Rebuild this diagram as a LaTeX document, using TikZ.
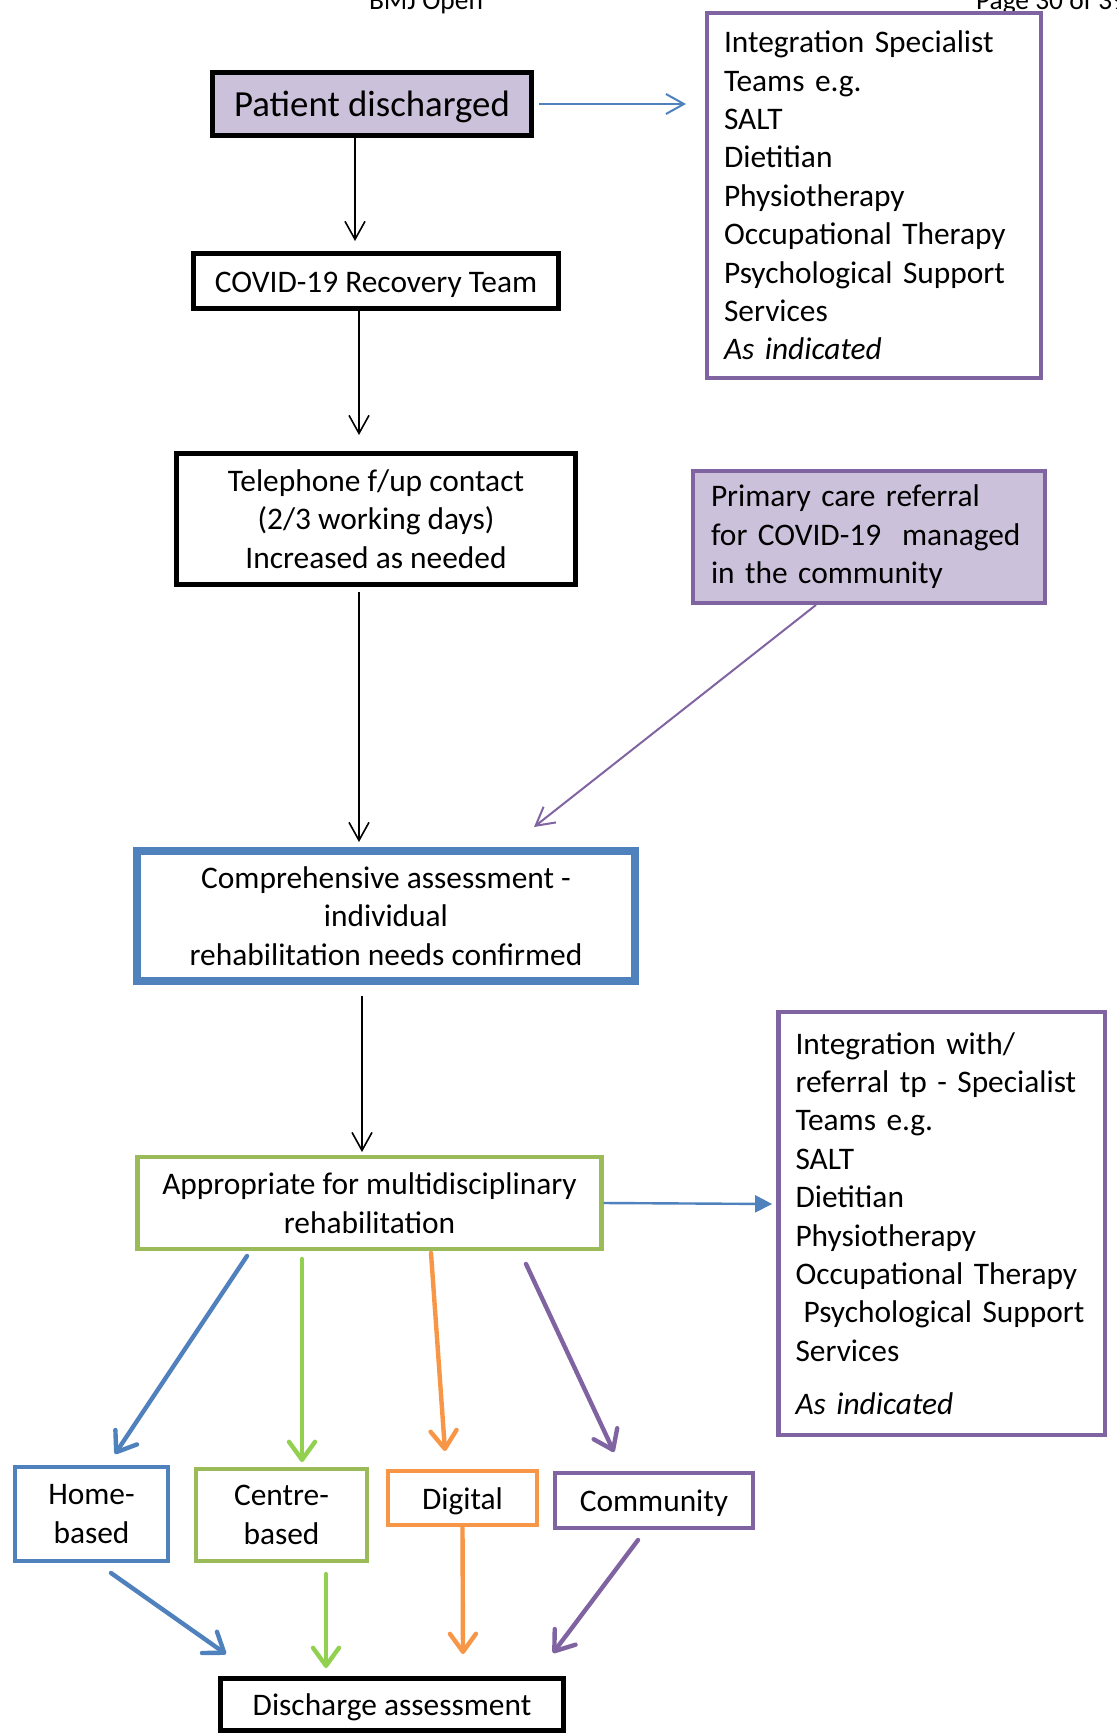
\documentclass[tikz,border=0pt]{standalone}
\usepackage{fontspec}
\setmainfont{Carlito}
\usetikzlibrary{arrows.meta,positioning}
\definecolor{lavender}{HTML}{CCC1DA}
\definecolor{purp}{HTML}{8064A2}
\definecolor{blu}{HTML}{4F81BD}
\definecolor{grn}{HTML}{9BBB59}
\definecolor{lgrn}{HTML}{92D050}
\definecolor{orng}{HTML}{F79646}
\tikzset{>={Straight Barb[length=9pt,width=10pt]}}
\tikzset{
  box/.style={draw, rectangle, inner sep=0pt, align=center, font=\fontsize{15.7}{19.2}\selectfont},
  oneline/.style={text height=13pt, text depth=2pt},
  blackbox/.style={box, line width=2.5pt},
  listbox/.style={box, draw=purp, line width=2.2pt, align=left},
  route/.style={line width=2.2pt, line cap=round, -{Straight Barb[length=9pt,width=13pt,round]}},
}

\begin{document}
\begin{tikzpicture}[x=0.5pt, y=-0.5pt]
      \useasboundingbox (0,0) rectangle (1116,1735);
      \node[anchor=base, font=\fontsize{13.7}{16}\selectfont] (hd) at (426,9) {BMJ Open};
      \node[anchor=base west, font=\fontsize{13.7}{16}\selectfont] (pg) at (969,9) {Page 30 of 39};
      \node[blackbox, fill=lavender, minimum width=159.5pt, minimum height=31.5pt, font=\fontsize{18.4}{22}\selectfont, text height=14pt, text depth=1.8pt] (n0) at (372,104) {Patient discharged};
      \node[blackbox, oneline, minimum width=182.5pt, minimum height=27.5pt] (n1) at (376,281) {COVID-19 Recovery Team};
      \node[blackbox, minimum width=199.5pt, minimum height=65.5pt] (n2) at (376,519) {Telephone f/up contact\\(2/3 working days)\\Increased as needed};
      \node[box, draw=blu, line width=4pt, minimum width=249pt, minimum height=65pt] (n3) at (386,916) {Comprehensive assessment -\\individual\\rehabilitation needs confirmed};
      \node[box, draw=grn, line width=2.2pt, minimum width=232pt, minimum height=45.75pt] (n4) at (369.5,1203) {Appropriate for multidisciplinary\\rehabilitation};
      \node[listbox, text width=150pt, inner xsep=8.4pt, minimum height=182.25pt] (n5) at (874,195.5) {Integration Specialist\\Teams e.g.\\SALT\\Dietitian\\Physiotherapy\\Occupational Therapy\\Psychological Support\\Services\\\textit{As indicated}};
      \node[listbox, fill=lavender, text width=158pt, inner xsep=8.9pt, minimum height=65.75pt] (n6) at (869,537) {Primary care referral\\for COVID-19~ managed\\in the community};
      \node[listbox, text width=146pt, inner xsep=8.6pt, minimum height=211.25pt] (n7) at (941.5,1223.5) {Integration with/\\referral tp - Specialist\\Teams e.g.\\SALT\\Dietitian\\Physiotherapy\\Occupational Therapy\\\hspace*{4pt}Psychological Support\\Services\\[7.4pt]\textit{As indicated}};
      \node[box, draw=blu, line width=2pt, minimum width=76.5pt, minimum height=47pt] (n8) at (91.5,1514) {Home-\\based};
      \node[box, draw=grn, line width=2pt, minimum width=85.5pt, minimum height=46pt] (n9) at (281.5,1515) {Centre-\\based};
      \node[box, oneline, draw=orng, line width=2pt, minimum width=74.5pt, minimum height=27pt] (n10) at (462.5,1498) {Digital};
      \node[box, oneline, draw=purp, line width=2pt, minimum width=99pt, minimum height=27.5pt] (n11) at (654,1500.5) {Community};
      \node[blackbox, oneline, minimum width=171.5pt, minimum height=26pt] (nx) at (392,1704.5) {Discharge assessment};
      \draw[->, line width=0.8pt, shorten >=5pt] ([xshift=-8.5pt]n0.south) -- ([xshift=-10.5pt]n1.north);
      \draw[->, line width=0.8pt, shorten >=8pt] ([xshift=-8.5pt]n1.south) -- ([xshift=-8.5pt]n2.north);
      \draw[->, line width=0.8pt, shorten <=2.5pt, shorten >=2.5pt] ([xshift=-8.5pt]n2.south) -- ([xshift=-13.5pt]n3.north);
      \draw[->, line width=0.8pt, shorten <=5.5pt, shorten >=1.5pt] ([xshift=-12pt]n3.south) -- ([xshift=-3.75pt]n4.north);
      \draw[->, draw=blu, line width=1pt, shorten <=2.5pt, shorten >=9.5pt] (n0.east) -- ([yshift=45.75pt]n5.west);
      \draw[->, draw=purp, line width=1pt] ([xshift=-26.5pt]n6.south) -- ([xshift=74pt,yshift=10pt]n3.north);
      \draw[-{Triangle[length=8.5pt,width=8.5pt]}, draw=blu, line width=1.2pt, shorten >=2pt] (n4.east) -- ([yshift=9.75pt]n7.west);
      % routes to the four settings
      \draw[route, draw=blu] ([xshift=-61.25pt,yshift=-2.5pt]n4.south) -- ([xshift=11.75pt,yshift=5.5pt]n8.north);
      \draw[route, draw=lgrn] ([xshift=-33.75pt,yshift=-4pt]n4.south) -- ([xshift=10.25pt,yshift=2.5pt]n9.north);
      \draw[route, draw=orng] ([xshift=30.75pt,yshift=-1pt]n4.south) -- ([xshift=-8.75pt,yshift=9pt]n10.north);
      \draw[route, draw=purp] ([xshift=78.25pt,yshift=-6.5pt]n4.south) -- ([xshift=-20pt,yshift=9.5pt]n11.north);
      \draw[route, draw=blu] ([xshift=9.75pt,yshift=-5pt]n8.south) -- ([xshift=-83pt,yshift=11pt]nx.north);
      \draw[route, draw=lgrn] ([xshift=22.25pt,yshift=-5.5pt]n9.south) -- ([xshift=-33pt,yshift=4pt]nx.north);
      \draw[route, draw=orng] (n10.south) -- ([xshift=35.5pt,yshift=11pt]nx.north);
      \draw[route, draw=purp] ([xshift=-8pt,yshift=-5pt]n11.south) -- ([xshift=80.5pt,yshift=11.5pt]nx.north);
\end{tikzpicture}
\end{document}
